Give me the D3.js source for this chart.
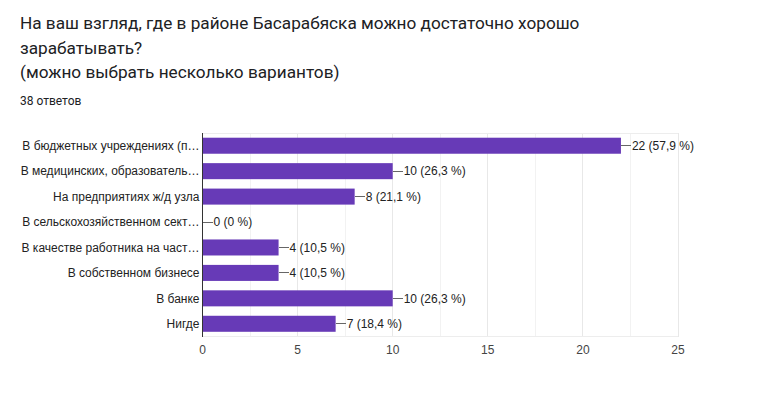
<!DOCTYPE html>
<html><head><meta charset="utf-8">
<script src="https://cdn.jsdelivr.net/npm/d3@7"></script>
<style>
html,body{margin:0;padding:0;background:#fff;}
svg{display:block;}
</style></head>
<body>
<svg id="chart" width="761" height="393"></svg>
<script>
const titleLines = ["На ваш взгляд, где в районе Басарабяска можно достаточно хорошо", "зарабатывать?", "(можно выбрать несколько вариантов)"];
const subtitle = "38 ответов";
const categories = ["В бюджетных учреждениях (п…", "В медицинских, образователь…", "На предприятиях ж/д узла", "В сельскохозяйственном сект…", "В качестве работника на част…", "В собственном бизнесе", "В банке", "Нигде"];
const counts = [22, 10, 8, 0, 4, 4, 10, 7];
const percents = ["57,9", "26,3", "21,1", "0", "10,5", "10,5", "26,3", "18,4"];
const xTicks = [0, 5, 10, 15, 20, 25];
const xGrid = [0, 2.5, 5, 7.5, 10, 12.5, 15, 17.5, 20, 22.5, 25];

const svg = d3.select("#chart");
const L = 202.5, R = 678, T = 133, B = 336.5;

svg.append("g").selectAll("text").data(titleLines).join("text")
  .attr("x", 20).attr("y", (d,i)=>29 + i*24.5)
  .attr("font-family", "Roboto, Arial, sans-serif").attr("font-size", 17.2)
  .attr("fill", "#202124").text(d=>d);
svg.append("text").attr("x", 20).attr("y", 105)
  .attr("font-family", "Roboto, Arial, sans-serif").attr("font-size", 12)
  .attr("fill", "#202124").text(subtitle);

const x = d3.scaleLinear().domain([0, 25]).range([L, R]);
const y = d3.scaleBand().domain(categories).range([T, B]).paddingInner(0.37).paddingOuter(0.185);

// gridlines
svg.append("g").selectAll("line").data(xGrid).join("line")
  .attr("x1", d=>x(d)).attr("x2", d=>x(d)).attr("y1", T).attr("y2", B)
  .attr("stroke", d=> d%5===0 ? "#e8e8e8" : "#f2f2f2").attr("stroke-width", 1)
  .attr("shape-rendering","crispEdges");
svg.append("line").attr("x1", L).attr("x2", R).attr("y1", T).attr("y2", T)
  .attr("stroke", "#ededed").attr("shape-rendering","crispEdges");
svg.append("line").attr("x1", L).attr("x2", R).attr("y1", B).attr("y2", B)
  .attr("stroke", "#ededed").attr("shape-rendering","crispEdges");

const data = categories.map((c,i)=>({c, v:counts[i], p:percents[i]}));

svg.append("g").selectAll("rect").data(data).join("rect")
  .attr("x", x(0)).attr("y", d=>y(d.c)).attr("width", d=>x(d.v)-x(0)).attr("height", y.bandwidth())
  .attr("fill", "#673ab7");

// axis line
svg.append("line").attr("x1", L).attr("x2", L).attr("y1", T).attr("y2", B)
  .attr("stroke", "#333").attr("stroke-width", 1).attr("shape-rendering","crispEdges");

// category labels
svg.append("g").selectAll("text").data(data).join("text")
  .attr("x", L - 3).attr("y", d=>y(d.c)+y.bandwidth()/2).attr("dy","0.35em")
  .attr("text-anchor","end").attr("font-family","Arial, 'Liberation Sans', sans-serif")
  .attr("font-size", 12).attr("fill", "#222").text(d=>d.c);

// value labels with leader lines
const vg = svg.append("g").selectAll("g").data(data).join("g");
vg.append("line").attr("x1", d=>x(d.v)).attr("x2", d=>x(d.v)+10)
  .attr("y1", d=>y(d.c)+y.bandwidth()/2).attr("y2", d=>y(d.c)+y.bandwidth()/2)
  .attr("stroke", "#666").attr("stroke-width", 1).attr("shape-rendering","crispEdges");
vg.append("text").attr("x", d=>x(d.v)+11).attr("y", d=>y(d.c)+y.bandwidth()/2).attr("dy","0.35em")
  .attr("font-family","Arial, 'Liberation Sans', sans-serif").attr("font-size", 12).attr("fill", "#222")
  .text(d=>`${d.v} (${d.p} %)`);

// x tick labels
svg.append("g").selectAll("text").data(xTicks).join("text")
  .attr("x", d=>x(d)).attr("y", 354).attr("text-anchor","middle")
  .attr("font-family","Arial, 'Liberation Sans', sans-serif").attr("font-size", 12).attr("fill", "#444")
  .text(d=>d);
</script>
</body></html>
